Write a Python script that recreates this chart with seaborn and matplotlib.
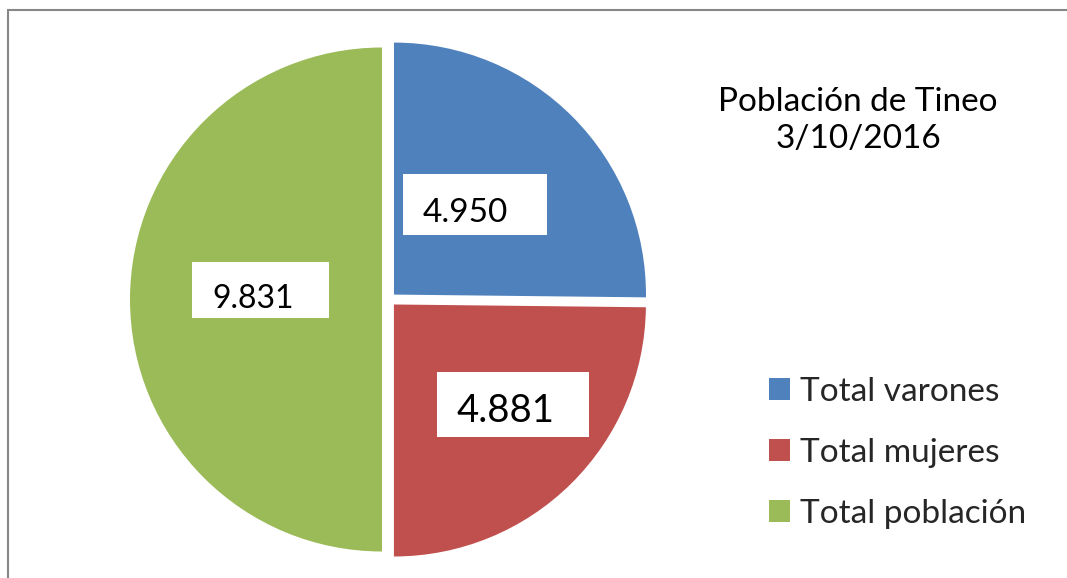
import matplotlib
matplotlib.use("Agg")
import matplotlib.pyplot as plt
from matplotlib.patches import Rectangle
import seaborn as sns

# datos
categorias = ["Total varones", "Total mujeres", "Total población"]
valores = [4950, 4881, 9831]
etiquetas = ["4.950", "4.881", "9.831"]
titulo = "Población de Tineo\n3/10/2016"

sns.set_theme(style="white")
plt.rcParams["font.family"] = ["Lato", "DejaVu Sans"]
colores = sns.color_palette(["#4F81BD", "#C0504D", "#9BBB59"])

W, H = 1067, 578
fig = plt.figure(figsize=(W / 100, H / 100), dpi=100)
ax = fig.add_axes([0, 0, 1, 1])

# pie en coordenadas de pixel (y hacia arriba); explode en pixeles
cx, cy, r = 389, H - 299.5, 252
wedges, _ = ax.pie(valores, colors=colores, startangle=90, counterclock=False,
                   explode=[7] * 3, center=(cx, cy), radius=r,
                   wedgeprops=dict(linewidth=0))
ax.set_xlim(0, W)
ax.set_ylim(0, H)
ax.set_aspect("equal")
ax.axis("off")

# cajas de etiquetas: (x, y_sup, ancho, alto, x_texto, base_texto, tamaño)
cajas = [
    (403, 174, 144, 61, 423, 221.5, 24),
    (437, 372, 152, 65, 457, 422.5, 27.5),
    (192, 262, 137, 56, 212, 308, 23),
]
for (x0, y0, w, h, tx, tb, fs), txt in zip(cajas, etiquetas):
    ax.add_patch(Rectangle((x0, H - y0 - h), w, h, facecolor="white",
                           edgecolor="none", zorder=3))
    ax.text(tx, H - tb, txt, fontsize=fs, ha="left", va="baseline",
            color="black", zorder=4)

ax.text(858, H - 148, titulo, fontsize=24, ha="center", va="baseline",
        linespacing=1.28, color="black")

ax.legend(wedges, categorias, loc="upper left",
          bbox_to_anchor=(769 / W, 1 - 377 / H), bbox_transform=fig.transFigure,
          frameon=False, fontsize=24, handlelength=0.63, handleheight=0.63,
          handletextpad=0.3, labelspacing=0.93, borderpad=0, borderaxespad=0)

# borde gris superior e izquierdo
fig.patches.append(Rectangle((8 / W, -0.1), 2, 1.1 - 10 / H,
                             transform=fig.transFigure, fill=False,
                             edgecolor="#878787", linewidth=1.5))

fig.savefig("out.png", dpi=100)
